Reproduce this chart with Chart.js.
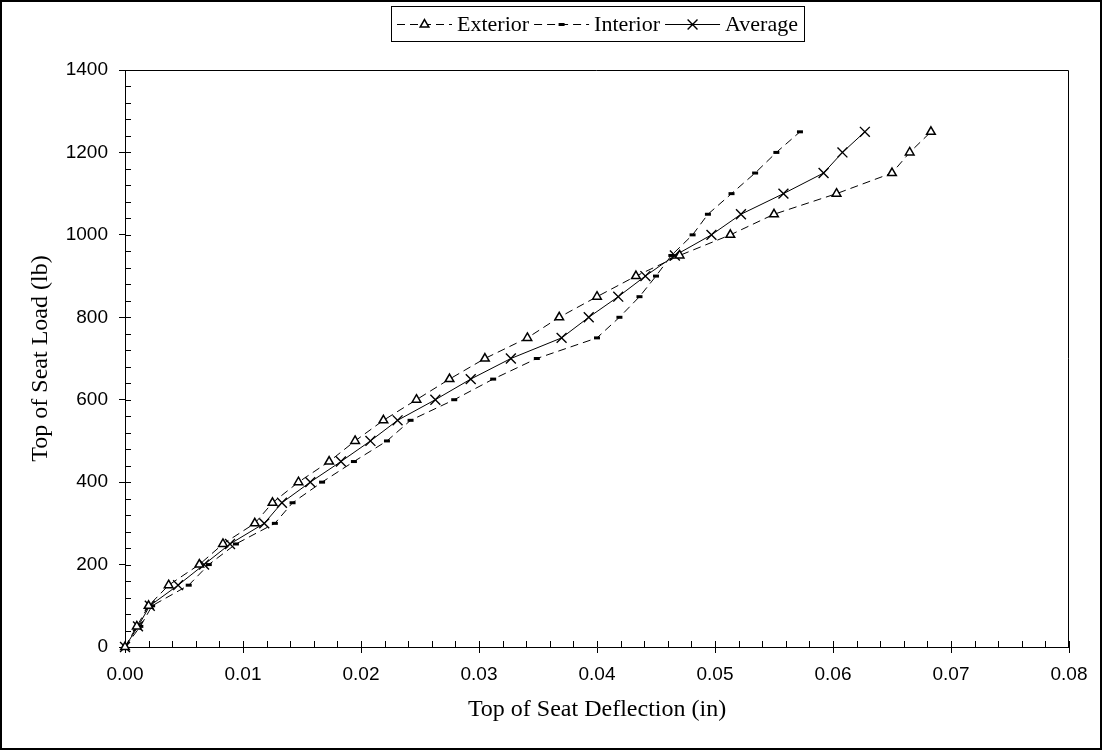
<!DOCTYPE html>
<html>
<head>
<meta charset="utf-8">
<title>Top of Seat Load vs Deflection</title>
<script src="https://cdn.jsdelivr.net/npm/chart.js@4.4.1/dist/chart.umd.min.js"></script>
<style>
    html, body { margin: 0; padding: 0; background: #fff; }
    #wrap { width: 1102px; height: 750px; }
</style>
</head>
<body>
<div id="wrap"><canvas id="seatChart" width="1102" height="750"></canvas></div>
<script>
// load steps (lb) and the deflections (in) measured at each step
const loads = [0, 50, 100, 150, 200, 250, 300, 350, 400, 450, 500, 550, 600,
    650, 700, 750, 800, 850, 900, 950, 1000, 1050, 1100, 1150, 1200, 1250];

const exteriorDefl = [0, 0.0010, 0.0020, 0.0037, 0.0063, 0.0083, 0.0110, 0.0125, 0.0147,
    0.0173, 0.0195, 0.0219, 0.0247, 0.0275, 0.0305, 0.0341, 0.0368, 0.0400, 0.0433,
    0.0470, 0.0513, 0.0550, 0.0603, 0.0650, 0.0665, 0.0683];

const interiorDefl = [0, 0.0013, 0.0023, 0.0054, 0.0071, 0.0094, 0.0127, 0.0142, 0.0167,
    0.0194, 0.0222, 0.0242, 0.0279, 0.0312, 0.0349, 0.0400, 0.0419, 0.0436, 0.0450,
    0.0463, 0.0481, 0.0494, 0.0514, 0.0534, 0.0552, 0.0572];

const averageDefl = [0, 0.0011, 0.0021, 0.0045, 0.0067, 0.0089, 0.0118, 0.0133, 0.0157,
    0.0183, 0.0208, 0.0231, 0.0263, 0.0293, 0.0327, 0.0370, 0.0393, 0.0418, 0.0441,
    0.0466, 0.0497, 0.0522, 0.0558, 0.0592, 0.0608, 0.0627];

const seriesNames = ["Exterior", "Interior", "Average"];

// axis ranges
const xMin = 0, xMax = 0.08, xStep = 0.01, xMinorStep = 0.002;
const yMin = 0, yMax = 1400, yStep = 200, yMinorStep = 40;

const serif = "'Liberation Serif', 'Times New Roman', serif";
const sans = "'Liberation Sans', Arial, sans-serif";

function toPoints(xs) {
    return xs.map((x, i) => ({ x: x, y: loads[i] }));
}

// white page with a black frame round it
const framePlugin = {
    id: "frame",
    beforeDraw(chart) {
        const ctx = chart.ctx;
        ctx.save();
        ctx.fillStyle = "#fff";
        ctx.fillRect(0, 0, chart.width, chart.height);
        ctx.restore();
    },
    afterDraw(chart) {
        const ctx = chart.ctx;
        ctx.save();
        ctx.strokeStyle = "#000";
        ctx.lineWidth = 2;
        ctx.strokeRect(1, 1, chart.width - 2, chart.height - 2);
        ctx.restore();
    }
};

// minor ticks, inner half of the x major ticks, and the top/right plot border
const tickPlugin = {
    id: "minorTicks",
    beforeDatasetsDraw(chart) {
        const ctx = chart.ctx;
        const area = chart.chartArea;
        const xs = chart.scales.x;
        const ys = chart.scales.y;
        ctx.save();
        ctx.strokeStyle = "#000";
        ctx.lineWidth = 1;
        ctx.beginPath();
        ctx.moveTo(area.left, area.top + 0.5);
        ctx.lineTo(area.right - 0.5, area.top + 0.5);
        ctx.lineTo(area.right - 0.5, area.bottom);

        const nx = Math.round((xMax - xMin) / xMinorStep);
        for (let i = 1; i < nx; i++) {
            const px = Math.round(xs.getPixelForValue(xMin + i * xMinorStep)) + 0.5;
            ctx.moveTo(px, area.bottom);
            ctx.lineTo(px, area.bottom - 6);
        }
        xs.ticks.forEach(t => {
            const px = Math.round(xs.getPixelForValue(t.value)) + 0.5;
            ctx.moveTo(px, area.bottom);
            ctx.lineTo(px, area.bottom - 6);
        });

        const ny = Math.round((yMax - yMin) / yMinorStep);
        for (let i = 1; i < ny; i++) {
            const py = Math.round(ys.getPixelForValue(yMin + i * yMinorStep)) + 0.5;
            ctx.moveTo(area.left, py);
            ctx.lineTo(area.left + 6, py);
        }
        ctx.stroke();
        ctx.restore();
    }
};

// boxed legend across the top
const legendPlugin = {
    id: "seatLegend",
    afterDraw(chart) {
        const ctx = chart.ctx;
        const drawPoint = Chart.helpers && Chart.helpers.drawPoint;
        const cy = 24;
        const sampleLen = 55;
        const gap = 5;
        ctx.save();
        ctx.font = "22px " + serif;
        ctx.textBaseline = "middle";
        ctx.fillStyle = "#000";

        let total = 0;
        chart.data.datasets.forEach((ds, i) => {
            total += sampleLen + gap + ctx.measureText(ds.label).width;
            if (i < chart.data.datasets.length - 1) total += gap;
        });
        const boxW = Math.round(total + 12);
        const boxL = Math.round(597 - boxW / 2);
        ctx.strokeStyle = "#000";
        ctx.lineWidth = 1;
        ctx.strokeRect(boxL + 0.5, 6.5, boxW, 35);

        let x = boxL + 6;
        chart.data.datasets.forEach(ds => {
            ctx.setLineDash(ds.borderDash || []);
            ctx.lineWidth = ds.borderWidth;
            ctx.beginPath();
            ctx.moveTo(x, cy + 0.5);
            ctx.lineTo(x + sampleLen, cy + 0.5);
            ctx.stroke();
            ctx.setLineDash([]);
            ctx.fillStyle = ds.pointBackgroundColor;
            ctx.strokeStyle = ds.pointBorderColor;
            ctx.lineWidth = ds.pointBorderWidth;
            if (drawPoint) {
                drawPoint(ctx, {
                    pointStyle: ds.pointStyle,
                    radius: ds.pointRadius,
                    rotation: 0,
                    borderWidth: ds.pointBorderWidth
                }, x + sampleLen / 2, cy + 0.5);
            }
            x += sampleLen + gap;
            ctx.fillStyle = "#000";
            ctx.strokeStyle = "#000";
            ctx.fillText(ds.label, x, cy + 1);
            x += ctx.measureText(ds.label).width + gap;
        });
        ctx.restore();
    }
};

function makeDataset(name, values, style) {
    return Object.assign({
        label: name,
        data: toPoints(values),
        showLine: true,
        borderColor: "#000",
        borderWidth: 1,
        pointBorderColor: "#000",
        pointBackgroundColor: "#fff",
        tension: 0,
        fill: false,
        clip: false
    }, style);
}

const ctx = document.getElementById("seatChart").getContext("2d");

new Chart(ctx, {
    type: "scatter",
    data: {
        datasets: [
            makeDataset(seriesNames[0], exteriorDefl, {
                borderDash: [8, 5],
                pointStyle: "triangle",
                pointRadius: 5,
                pointBorderWidth: 1.5
            }),
            makeDataset(seriesNames[1], interiorDefl, {
                borderDash: [8, 5],
                pointStyle: "line",
                pointRadius: 3,
                pointBorderWidth: 3,
                pointBackgroundColor: "#000"
            }),
            makeDataset(seriesNames[2], averageDefl, {
                pointStyle: "crossRot",
                pointRadius: 7,
                pointBorderWidth: 1.4
            })
        ]
    },
    options: {
        responsive: false,
        animation: false,
        events: [],
        layout: {
            padding: { top: 70, right: 33, left: 0, bottom: 0 }
        },
        plugins: {
            legend: { display: false },
            tooltip: { enabled: false }
        },
        scales: {
            x: {
                type: "linear",
                min: xMin,
                max: xMax,
                afterFit(scale) { scale.height = 103; },
                ticks: {
                    stepSize: xStep,
                    color: "#000",
                    padding: 10,
                    maxRotation: 0,
                    font: { family: sans, size: 19 },
                    callback: v => v.toFixed(2)
                },
                grid: {
                    drawOnChartArea: false,
                    drawTicks: true,
                    tickLength: 6,
                    color: "#000"
                },
                border: { color: "#000", width: 1 },
                title: {
                    display: true,
                    text: "Top of Seat Deflection (in)",
                    color: "#000",
                    font: { family: serif, size: 24 },
                    padding: { top: 0, bottom: 26 }
                }
            },
            y: {
                type: "linear",
                min: yMin,
                max: yMax,
                afterFit(scale) { scale.width = 125; },
                ticks: {
                    stepSize: yStep,
                    color: "#000",
                    padding: 11,
                    font: { family: sans, size: 19 },
                    callback: v => String(v)
                },
                grid: {
                    drawOnChartArea: false,
                    drawTicks: true,
                    tickLength: 6,
                    color: "#000"
                },
                border: { color: "#000", width: 1 },
                title: {
                    display: true,
                    text: "Top of Seat Load (lb)",
                    color: "#000",
                    font: { family: serif, size: 24 },
                    padding: { top: 26, bottom: 0 }
                }
            }
        }
    },
    plugins: [framePlugin, tickPlugin, legendPlugin]
});
</script>
</body>
</html>
